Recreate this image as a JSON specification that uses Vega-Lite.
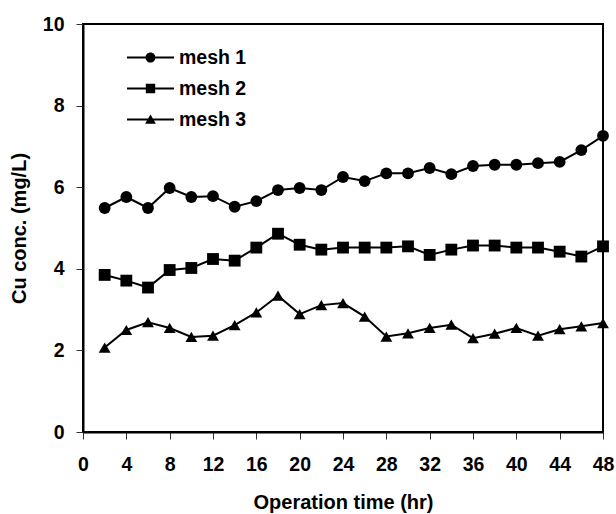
{
  "$schema": "https://vega.github.io/schema/vega-lite/v6.json",
  "width": 520,
  "height": 408,
  "autosize": {"type": "none"},
  "padding": {"left": 83, "top": 24, "right": 13, "bottom": 82},
  "background": "white",
  "config": {
    "view": {"stroke": "black", "strokeWidth": 2},
    "font": "Liberation Sans",
    "axis": {
      "grid": false,
      "domainColor": "black",
      "domainWidth": 2,
      "tickColor": "#333333",
      "tickWidth": 1,
      "tickSize": 7,
      "labelFont": "Liberation Sans",
      "labelFontWeight": "bold",
      "labelFontSize": 19.5,
      "labelColor": "black",
      "titleFont": "Liberation Sans",
      "titleFontWeight": "bold",
      "titleFontSize": 20,
      "titleColor": "black"
    }
  },
  "data": {
    "values": [
      {"series": "mesh 1", "time": 2, "conc": 5.49},
      {"series": "mesh 1", "time": 4, "conc": 5.76},
      {"series": "mesh 1", "time": 6, "conc": 5.49},
      {"series": "mesh 1", "time": 8, "conc": 5.98},
      {"series": "mesh 1", "time": 10, "conc": 5.76},
      {"series": "mesh 1", "time": 12, "conc": 5.78},
      {"series": "mesh 1", "time": 14, "conc": 5.52},
      {"series": "mesh 1", "time": 16, "conc": 5.66},
      {"series": "mesh 1", "time": 18, "conc": 5.93},
      {"series": "mesh 1", "time": 20, "conc": 5.98},
      {"series": "mesh 1", "time": 22, "conc": 5.93},
      {"series": "mesh 1", "time": 24, "conc": 6.25},
      {"series": "mesh 1", "time": 26, "conc": 6.15},
      {"series": "mesh 1", "time": 28, "conc": 6.34},
      {"series": "mesh 1", "time": 30, "conc": 6.34},
      {"series": "mesh 1", "time": 32, "conc": 6.47},
      {"series": "mesh 1", "time": 34, "conc": 6.32},
      {"series": "mesh 1", "time": 36, "conc": 6.52},
      {"series": "mesh 1", "time": 38, "conc": 6.55},
      {"series": "mesh 1", "time": 40, "conc": 6.55},
      {"series": "mesh 1", "time": 42, "conc": 6.59},
      {"series": "mesh 1", "time": 44, "conc": 6.62},
      {"series": "mesh 1", "time": 46, "conc": 6.91},
      {"series": "mesh 1", "time": 48, "conc": 7.26},
      {"series": "mesh 2", "time": 2, "conc": 3.85},
      {"series": "mesh 2", "time": 4, "conc": 3.71},
      {"series": "mesh 2", "time": 6, "conc": 3.54},
      {"series": "mesh 2", "time": 8, "conc": 3.97},
      {"series": "mesh 2", "time": 10, "conc": 4.02},
      {"series": "mesh 2", "time": 12, "conc": 4.24},
      {"series": "mesh 2", "time": 14, "conc": 4.2},
      {"series": "mesh 2", "time": 16, "conc": 4.52},
      {"series": "mesh 2", "time": 18, "conc": 4.86},
      {"series": "mesh 2", "time": 20, "conc": 4.59},
      {"series": "mesh 2", "time": 22, "conc": 4.47},
      {"series": "mesh 2", "time": 24, "conc": 4.52},
      {"series": "mesh 2", "time": 26, "conc": 4.52},
      {"series": "mesh 2", "time": 28, "conc": 4.52},
      {"series": "mesh 2", "time": 30, "conc": 4.55},
      {"series": "mesh 2", "time": 32, "conc": 4.34},
      {"series": "mesh 2", "time": 34, "conc": 4.47},
      {"series": "mesh 2", "time": 36, "conc": 4.57},
      {"series": "mesh 2", "time": 38, "conc": 4.57},
      {"series": "mesh 2", "time": 40, "conc": 4.52},
      {"series": "mesh 2", "time": 42, "conc": 4.52},
      {"series": "mesh 2", "time": 44, "conc": 4.42},
      {"series": "mesh 2", "time": 46, "conc": 4.3},
      {"series": "mesh 2", "time": 48, "conc": 4.55},
      {"series": "mesh 3", "time": 2, "conc": 2.07},
      {"series": "mesh 3", "time": 4, "conc": 2.5},
      {"series": "mesh 3", "time": 6, "conc": 2.69},
      {"series": "mesh 3", "time": 8, "conc": 2.55},
      {"series": "mesh 3", "time": 10, "conc": 2.33},
      {"series": "mesh 3", "time": 12, "conc": 2.36},
      {"series": "mesh 3", "time": 14, "conc": 2.62},
      {"series": "mesh 3", "time": 16, "conc": 2.93},
      {"series": "mesh 3", "time": 18, "conc": 3.34},
      {"series": "mesh 3", "time": 20, "conc": 2.89},
      {"series": "mesh 3", "time": 22, "conc": 3.11},
      {"series": "mesh 3", "time": 24, "conc": 3.16},
      {"series": "mesh 3", "time": 26, "conc": 2.83},
      {"series": "mesh 3", "time": 28, "conc": 2.34},
      {"series": "mesh 3", "time": 30, "conc": 2.42},
      {"series": "mesh 3", "time": 32, "conc": 2.55},
      {"series": "mesh 3", "time": 34, "conc": 2.63},
      {"series": "mesh 3", "time": 36, "conc": 2.3},
      {"series": "mesh 3", "time": 38, "conc": 2.41},
      {"series": "mesh 3", "time": 40, "conc": 2.55},
      {"series": "mesh 3", "time": 42, "conc": 2.36},
      {"series": "mesh 3", "time": 44, "conc": 2.52},
      {"series": "mesh 3", "time": 46, "conc": 2.59},
      {"series": "mesh 3", "time": 48, "conc": 2.67}
    ]
  },
  "encoding": {
    "x": {
      "field": "time",
      "type": "quantitative",
      "scale": {"domain": [0, 48], "nice": false},
      "axis": {
        "values": [0, 4, 8, 12, 16, 20, 24, 28, 32, 36, 40, 44, 48],
        "labelPadding": 16,
        "title": "Operation time (hr)",
        "titlePadding": 19,
        "labelFlush": false,
        "labelOverlap": false
      }
    },
    "y": {
      "field": "conc",
      "type": "quantitative",
      "scale": {"domain": [0, 10], "nice": false},
      "axis": {
        "values": [0, 2, 4, 6, 8, 10],
        "labelPadding": 12,
        "title": "Cu conc. (mg/L)",
        "titlePadding": 13
      }
    }
  },
  "layer": [
    {
      "mark": {"type": "line", "color": "black", "strokeWidth": 2},
      "encoding": {"detail": {"field": "series", "type": "nominal"}}
    },
    {
      "mark": {"type": "point", "filled": true, "color": "black", "opacity": 1, "size": 140},
      "encoding": {
        "shape": {
          "field": "series",
          "type": "nominal",
          "scale": {"domain": ["mesh 1", "mesh 2", "mesh 3"], "range": ["circle", "square", "triangle-up"]},
          "legend": null
        }
      }
    },
    {
      "mark": {"type": "point", "filled": true, "color": "black", "opacity": 0},
      "encoding": {
        "shape": {
          "field": "series",
          "type": "nominal",
          "scale": {
            "domain": ["mesh 1", "mesh 2", "mesh 3"],
            "range": [
              "M-2,-0.085L2,-0.085L2,0.085L-2,0.085ZM0.43,0A0.43,0.43,0,1,1,-0.43,0A0.43,0.43,0,1,1,0.43,0Z",
              "M-2,-0.085L2,-0.085L2,0.085L-2,0.085ZM-0.4,-0.4L0.4,-0.4L0.4,0.4L-0.4,0.4Z",
              "M-2,-0.085L2,-0.085L2,0.085L-2,0.085ZM0,-0.42L0.46,0.36L-0.46,0.36Z"
            ]
          },
          "legend": {
            "title": null,
            "orient": "none",
            "legendX": 55,
            "legendY": 21,
            "padding": 0,
            "symbolSize": 552,
            "symbolOpacity": 1,
            "symbolFillColor": "black",
            "labelOffset": 16,
            "rowPadding": 9,
            "labelFont": "Liberation Sans",
            "labelFontWeight": "bold",
            "labelFontSize": 19.5,
            "labelColor": "black"
          }
        }
      }
    }
  ],
  "resolve": {"scale": {"shape": "independent"}, "legend": {"shape": "independent"}}
}
